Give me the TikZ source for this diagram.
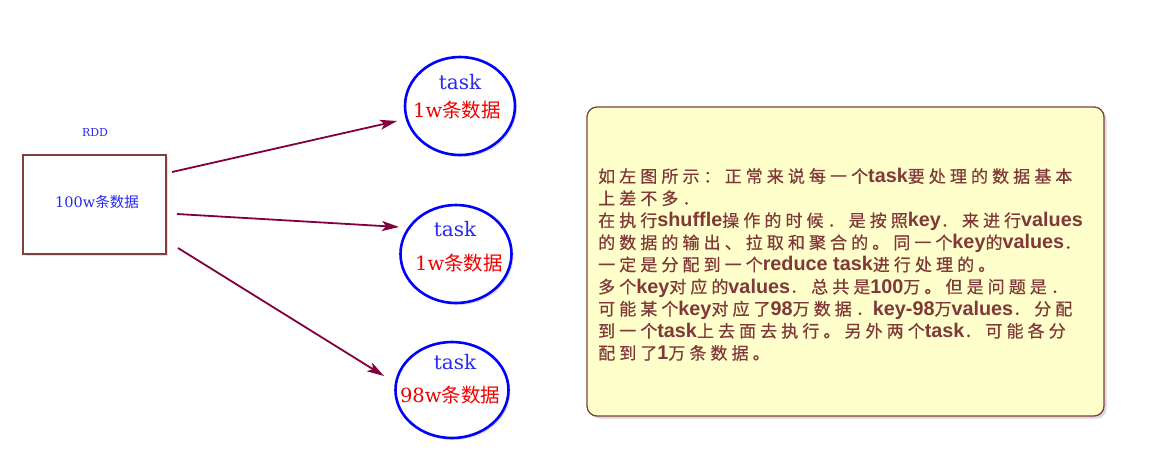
\documentclass[tikz,border=0pt]{standalone}
\usepackage{fontspec}
\newfontfamily\cjkls[LetterSpace=24,FakeBold=0.6]{Noto Sans CJK SC}
\newfontfamily\cjkplain{Noto Sans CJK SC}
\newfontfamily\latfam{Liberation Sans}
\newfontfamily\serfam{DejaVu Serif}
\newcommand\latw[1]{{\latfam\bfseries\fontsize{19.8}{22.1}\selectfont #1}}
\newcommand\serw[1]{{\serfam #1}}
\usetikzlibrary{arrows.meta,shapes.geometric,shadows}
\definecolor{arrowc}{HTML}{800040}
\definecolor{boxborder}{HTML}{804040}
\definecolor{notebg}{HTML}{FFFFCC}
\definecolor{notetext}{HTML}{803838}
\definecolor{taskblue}{HTML}{2828F0}
\definecolor{datared}{HTML}{F00000}
\tikzset{
  conn/.style={draw=arrowc, line width=1.8pt, -{Stealth[length=17pt,width=10pt,inset=4pt]}},
  taskcirc/.style={draw=blue, line width=2.6pt, ellipse, inner sep=0pt, fill=white,
    drop shadow={shadow xshift=2pt, shadow yshift=-2pt, opacity=0.25, fill=gray}},
  tasklbl/.style={text=taskblue, font=\serfam\fontsize{20}{22}\selectfont, inner sep=0pt},
  datalbl/.style={text=datared, font=\fontsize{19.5}{22}\selectfont, inner sep=0pt},
  rddbox/.style={draw=boxborder, line width=2.2pt, fill=white,
    drop shadow={shadow xshift=2pt, shadow yshift=-2pt, opacity=0.25, fill=gray}},
  notebox/.style={draw=boxborder, line width=1.3pt, fill=notebg, rounded corners=10pt,
    drop shadow={shadow xshift=2.5pt, shadow yshift=-2.5pt, opacity=0.3, fill=gray}}
}
\begin{document}
\begin{tikzpicture}[x=1pt,y=-1pt]
\useasboundingbox (0,0) rectangle (1162,453);
% RDD box
\node[rddbox, minimum width=143pt, minimum height=99pt, inner sep=0pt] (rdd) at (94.5,204.5) {};
\node[text=taskblue, font=\serfam\fontsize{11}{12}\selectfont, inner sep=0pt] (rddlbl) at (95,132) {RDD};
\node[text=taskblue, font=\fontsize{14.5}{16}\selectfont, inner sep=0pt] (rddtxt) at (97,202) {\serw{100w}\cjkplain 条数据};
% task ellipses
\node[taskcirc, minimum width=110pt, minimum height=98pt] (t1) at (460,106) {};
\node[taskcirc, minimum width=111pt, minimum height=98pt] (t2) at (456,254) {};
\node[taskcirc, minimum width=113pt, minimum height=96pt] (t3) at (452,390) {};
\node[tasklbl] (t1a) at (460,82) {task};
\node[datalbl] (t1b) at (457,110) {\serw{1w}\cjkplain 条数据};
\node[tasklbl] (t2a) at (455,229) {task};
\node[datalbl] (t2b) at (459,263) {\serw{1w}\cjkplain 条数据};
\node[tasklbl] (t3a) at (455,362) {task};
\node[datalbl] (t3b) at (450,395) {\serw{98w}\cjkplain 条数据};
% connectors
\coordinate (s1) at (172,172);
\coordinate (e1) at (397,121);
\coordinate (s2) at (177,214);
\coordinate (e2) at (399,227);
\coordinate (s3) at (178,248);
\coordinate (e3) at (384,376);
\draw[conn] (s1) -- (e1);
\draw[conn] (s2) -- (e2);
\draw[conn] (s3) -- (e3);
% note
\node[notebox, minimum width=517pt, minimum height=309pt, inner sep=0pt] (note) at (845.5,261.5) {};
\node[anchor=north west, align=left, inner sep=0pt, text=notetext,
      font=\cjkls\fontsize{17}{22.1}\selectfont] (notetxt) at (598,168) {%
如左图所示：正常来说每一个\latw{task}要处理的数据基本\\
上差不多．\\
在执行\latw{shuffle}操作的时候．是按照\latw{key}．来进行\latw{values}\\
的数据的输出、拉取和聚合的。同一个\latw{key}的\latw{values}．\\
一定是分配到一个\latw{reduce task}进行处理的。\\
多个\latw{key}对应的\latw{values}．总共是\latw{100}万。但是问题是．\\
可能某个\latw{key}对应了\latw{98}万数据．\latw{key-98}万\latw{values}．分配\\
到一个\latw{task}上去面去执行。另外两个\latw{task}．可能各分\\
配到了\latw{1}万条数据。};
\end{tikzpicture}
\end{document}
